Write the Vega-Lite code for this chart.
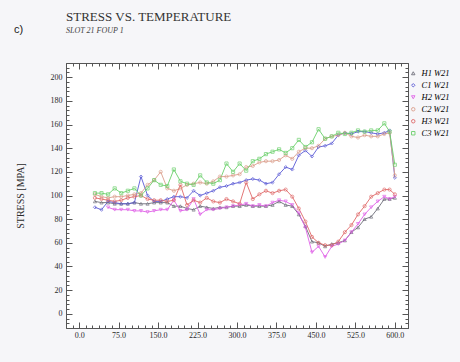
{
  "$schema": "https://vega.github.io/schema/vega-lite/v6.json",
  "autosize": "none",
  "padding": {"left": 66, "top": 63, "right": 52, "bottom": 34},
  "width": 342,
  "height": 265,
  "background": "#f6f6f9",
  "config": {
    "view": {"fill": "white", "stroke": "#555555", "strokeWidth": 1},
    "axis": {"domain": false, "grid": false, "labelFont": "Liberation Serif", "labelFontSize": 8, "labelColor": "#2a2a2a", "tickColor": "#555555", "labelOverlap": false, "labelBound": false, "labelFlush": false},
    "font": "Liberation Serif"
  },
  "title": {
    "text": "STRESS VS. TEMPERATURE",
    "subtitle": "SLOT 21 FOUP 1",
    "anchor": "start",
    "frame": "group",
    "font": "Liberation Serif",
    "fontSize": 13,
    "fontWeight": "normal",
    "color": "#333333",
    "subtitleFont": "Liberation Serif",
    "subtitleFontStyle": "italic",
    "subtitleFontSize": 8,
    "subtitleColor": "#444444",
    "subtitlePadding": 3,
    "offset": -12
  },
  "data": {"values": [
    {"s":"H1 W21","t":30,"v":95},{"s":"H1 W21","t":42.5,"v":94},{"s":"H1 W21","t":55,"v":94},{"s":"H1 W21","t":67.5,"v":93},{"s":"H1 W21","t":80,"v":93},{"s":"H1 W21","t":92.5,"v":93},{"s":"H1 W21","t":105,"v":94},{"s":"H1 W21","t":117.5,"v":93},{"s":"H1 W21","t":130,"v":93},{"s":"H1 W21","t":142.5,"v":94},{"s":"H1 W21","t":155,"v":94},{"s":"H1 W21","t":167.5,"v":94},{"s":"H1 W21","t":180,"v":91},{"s":"H1 W21","t":192.5,"v":91},{"s":"H1 W21","t":205,"v":89},{"s":"H1 W21","t":217.5,"v":88},{"s":"H1 W21","t":230,"v":91},{"s":"H1 W21","t":242.5,"v":90},{"s":"H1 W21","t":255,"v":89},{"s":"H1 W21","t":267.5,"v":90},{"s":"H1 W21","t":280,"v":90},{"s":"H1 W21","t":292.5,"v":91},{"s":"H1 W21","t":305,"v":91},{"s":"H1 W21","t":317.5,"v":92},{"s":"H1 W21","t":330,"v":91},{"s":"H1 W21","t":342.5,"v":91},{"s":"H1 W21","t":355,"v":91},{"s":"H1 W21","t":367.5,"v":92},{"s":"H1 W21","t":380,"v":95},{"s":"H1 W21","t":392.5,"v":92},{"s":"H1 W21","t":405,"v":91},{"s":"H1 W21","t":417.5,"v":84},{"s":"H1 W21","t":430,"v":74},{"s":"H1 W21","t":442.5,"v":61},{"s":"H1 W21","t":455,"v":60},{"s":"H1 W21","t":467.5,"v":57},{"s":"H1 W21","t":480,"v":59},{"s":"H1 W21","t":492.5,"v":60},{"s":"H1 W21","t":505,"v":62},{"s":"H1 W21","t":517.5,"v":69},{"s":"H1 W21","t":530,"v":73},{"s":"H1 W21","t":542.5,"v":80},{"s":"H1 W21","t":555,"v":82},{"s":"H1 W21","t":567.5,"v":89},{"s":"H1 W21","t":580,"v":97},{"s":"H1 W21","t":590,"v":97},{"s":"H1 W21","t":600,"v":98},

    {"s":"C1 W21","t":30,"v":90},{"s":"C1 W21","t":42.5,"v":88},{"s":"C1 W21","t":55,"v":95},{"s":"C1 W21","t":67.5,"v":94},{"s":"C1 W21","t":80,"v":93},{"s":"C1 W21","t":92.5,"v":93},{"s":"C1 W21","t":105,"v":94},{"s":"C1 W21","t":117.5,"v":116},{"s":"C1 W21","t":130,"v":100},{"s":"C1 W21","t":142.5,"v":95},{"s":"C1 W21","t":155,"v":95},{"s":"C1 W21","t":167.5,"v":97},{"s":"C1 W21","t":180,"v":99},{"s":"C1 W21","t":192.5,"v":99},{"s":"C1 W21","t":205,"v":98},{"s":"C1 W21","t":217.5,"v":104},{"s":"C1 W21","t":230,"v":100},{"s":"C1 W21","t":242.5,"v":102},{"s":"C1 W21","t":255,"v":104},{"s":"C1 W21","t":267.5,"v":107},{"s":"C1 W21","t":280,"v":108},{"s":"C1 W21","t":292.5,"v":110},{"s":"C1 W21","t":305,"v":111},{"s":"C1 W21","t":317.5,"v":113},{"s":"C1 W21","t":330,"v":114},{"s":"C1 W21","t":342.5,"v":113},{"s":"C1 W21","t":355,"v":110},{"s":"C1 W21","t":367.5,"v":111},{"s":"C1 W21","t":380,"v":118},{"s":"C1 W21","t":392.5,"v":124},{"s":"C1 W21","t":405,"v":122},{"s":"C1 W21","t":417.5,"v":134},{"s":"C1 W21","t":430,"v":138},{"s":"C1 W21","t":442.5,"v":133},{"s":"C1 W21","t":455,"v":141},{"s":"C1 W21","t":467.5,"v":142},{"s":"C1 W21","t":480,"v":144},{"s":"C1 W21","t":492.5,"v":151},{"s":"C1 W21","t":505,"v":153},{"s":"C1 W21","t":517.5,"v":152},{"s":"C1 W21","t":530,"v":154},{"s":"C1 W21","t":542.5,"v":154},{"s":"C1 W21","t":555,"v":153},{"s":"C1 W21","t":567.5,"v":152},{"s":"C1 W21","t":580,"v":153},{"s":"C1 W21","t":590,"v":155},{"s":"C1 W21","t":600,"v":115},

    {"s":"H2 W21","t":55,"v":90},{"s":"H2 W21","t":67.5,"v":88},{"s":"H2 W21","t":80,"v":88},{"s":"H2 W21","t":92.5,"v":88},{"s":"H2 W21","t":105,"v":87},{"s":"H2 W21","t":117.5,"v":87},{"s":"H2 W21","t":130,"v":86},{"s":"H2 W21","t":142.5,"v":87},{"s":"H2 W21","t":155,"v":88},{"s":"H2 W21","t":167.5,"v":88},{"s":"H2 W21","t":180,"v":96},{"s":"H2 W21","t":192.5,"v":87},{"s":"H2 W21","t":205,"v":88},{"s":"H2 W21","t":217.5,"v":97},{"s":"H2 W21","t":230,"v":84},{"s":"H2 W21","t":242.5,"v":88},{"s":"H2 W21","t":255,"v":88},{"s":"H2 W21","t":267.5,"v":89},{"s":"H2 W21","t":280,"v":90},{"s":"H2 W21","t":292.5,"v":91},{"s":"H2 W21","t":305,"v":92},{"s":"H2 W21","t":317.5,"v":93},{"s":"H2 W21","t":330,"v":91},{"s":"H2 W21","t":342.5,"v":92},{"s":"H2 W21","t":355,"v":91},{"s":"H2 W21","t":367.5,"v":94},{"s":"H2 W21","t":380,"v":96},{"s":"H2 W21","t":392.5,"v":95},{"s":"H2 W21","t":405,"v":92},{"s":"H2 W21","t":417.5,"v":85},{"s":"H2 W21","t":430,"v":73},{"s":"H2 W21","t":442.5,"v":52},{"s":"H2 W21","t":455,"v":57},{"s":"H2 W21","t":467.5,"v":48},{"s":"H2 W21","t":480,"v":57},{"s":"H2 W21","t":492.5,"v":59},{"s":"H2 W21","t":505,"v":62},{"s":"H2 W21","t":517.5,"v":69},{"s":"H2 W21","t":530,"v":76},{"s":"H2 W21","t":542.5,"v":84},{"s":"H2 W21","t":555,"v":90},{"s":"H2 W21","t":567.5,"v":95},{"s":"H2 W21","t":580,"v":99},{"s":"H2 W21","t":590,"v":97},{"s":"H2 W21","t":600,"v":99},

    {"s":"C2 W21","t":30,"v":101},{"s":"C2 W21","t":42.5,"v":99},{"s":"C2 W21","t":55,"v":98},{"s":"C2 W21","t":67.5,"v":99},{"s":"C2 W21","t":80,"v":99},{"s":"C2 W21","t":92.5,"v":100},{"s":"C2 W21","t":105,"v":101},{"s":"C2 W21","t":117.5,"v":102},{"s":"C2 W21","t":130,"v":109},{"s":"C2 W21","t":142.5,"v":113},{"s":"C2 W21","t":155,"v":120},{"s":"C2 W21","t":167.5,"v":106},{"s":"C2 W21","t":180,"v":104},{"s":"C2 W21","t":192.5,"v":106},{"s":"C2 W21","t":205,"v":109},{"s":"C2 W21","t":217.5,"v":110},{"s":"C2 W21","t":230,"v":111},{"s":"C2 W21","t":242.5,"v":110},{"s":"C2 W21","t":255,"v":112},{"s":"C2 W21","t":267.5,"v":116},{"s":"C2 W21","t":280,"v":116},{"s":"C2 W21","t":292.5,"v":117},{"s":"C2 W21","t":305,"v":118},{"s":"C2 W21","t":317.5,"v":124},{"s":"C2 W21","t":330,"v":125},{"s":"C2 W21","t":342.5,"v":128},{"s":"C2 W21","t":355,"v":129},{"s":"C2 W21","t":367.5,"v":129},{"s":"C2 W21","t":380,"v":130},{"s":"C2 W21","t":392.5,"v":134},{"s":"C2 W21","t":405,"v":131},{"s":"C2 W21","t":417.5,"v":137},{"s":"C2 W21","t":430,"v":140},{"s":"C2 W21","t":442.5,"v":140},{"s":"C2 W21","t":455,"v":142},{"s":"C2 W21","t":467.5,"v":148},{"s":"C2 W21","t":480,"v":150},{"s":"C2 W21","t":492.5,"v":151},{"s":"C2 W21","t":505,"v":153},{"s":"C2 W21","t":517.5,"v":150},{"s":"C2 W21","t":530,"v":149},{"s":"C2 W21","t":542.5,"v":151},{"s":"C2 W21","t":555,"v":150},{"s":"C2 W21","t":567.5,"v":150},{"s":"C2 W21","t":580,"v":152},{"s":"C2 W21","t":590,"v":153},{"s":"C2 W21","t":600,"v":117},

    {"s":"H3 W21","t":30,"v":98},{"s":"H3 W21","t":42.5,"v":97},{"s":"H3 W21","t":55,"v":96},{"s":"H3 W21","t":67.5,"v":95},{"s":"H3 W21","t":80,"v":96},{"s":"H3 W21","t":92.5,"v":98},{"s":"H3 W21","t":105,"v":99},{"s":"H3 W21","t":117.5,"v":100},{"s":"H3 W21","t":130,"v":97},{"s":"H3 W21","t":142.5,"v":96},{"s":"H3 W21","t":155,"v":96},{"s":"H3 W21","t":167.5,"v":95},{"s":"H3 W21","t":180,"v":96},{"s":"H3 W21","t":192.5,"v":109},{"s":"H3 W21","t":205,"v":92},{"s":"H3 W21","t":217.5,"v":96},{"s":"H3 W21","t":230,"v":94},{"s":"H3 W21","t":242.5,"v":98},{"s":"H3 W21","t":255,"v":95},{"s":"H3 W21","t":267.5,"v":94},{"s":"H3 W21","t":280,"v":97},{"s":"H3 W21","t":292.5,"v":95},{"s":"H3 W21","t":305,"v":93},{"s":"H3 W21","t":317.5,"v":111},{"s":"H3 W21","t":330,"v":97},{"s":"H3 W21","t":342.5,"v":101},{"s":"H3 W21","t":355,"v":104},{"s":"H3 W21","t":367.5,"v":102},{"s":"H3 W21","t":380,"v":104},{"s":"H3 W21","t":392.5,"v":105},{"s":"H3 W21","t":405,"v":99},{"s":"H3 W21","t":417.5,"v":89},{"s":"H3 W21","t":430,"v":78},{"s":"H3 W21","t":442.5,"v":65},{"s":"H3 W21","t":455,"v":60},{"s":"H3 W21","t":467.5,"v":58},{"s":"H3 W21","t":480,"v":58},{"s":"H3 W21","t":492.5,"v":61},{"s":"H3 W21","t":505,"v":69},{"s":"H3 W21","t":517.5,"v":75},{"s":"H3 W21","t":530,"v":84},{"s":"H3 W21","t":542.5,"v":91},{"s":"H3 W21","t":555,"v":99},{"s":"H3 W21","t":567.5,"v":102},{"s":"H3 W21","t":580,"v":105},{"s":"H3 W21","t":590,"v":105},{"s":"H3 W21","t":600,"v":101},

    {"s":"C3 W21","t":30,"v":102},{"s":"C3 W21","t":42.5,"v":102},{"s":"C3 W21","t":55,"v":101},{"s":"C3 W21","t":67.5,"v":106},{"s":"C3 W21","t":80,"v":102},{"s":"C3 W21","t":92.5,"v":104},{"s":"C3 W21","t":105,"v":106},{"s":"C3 W21","t":117.5,"v":100},{"s":"C3 W21","t":130,"v":106},{"s":"C3 W21","t":142.5,"v":113},{"s":"C3 W21","t":155,"v":109},{"s":"C3 W21","t":167.5,"v":108},{"s":"C3 W21","t":180,"v":122},{"s":"C3 W21","t":192.5,"v":112},{"s":"C3 W21","t":205,"v":110},{"s":"C3 W21","t":217.5,"v":109},{"s":"C3 W21","t":230,"v":117},{"s":"C3 W21","t":242.5,"v":111},{"s":"C3 W21","t":255,"v":110},{"s":"C3 W21","t":267.5,"v":113},{"s":"C3 W21","t":280,"v":127},{"s":"C3 W21","t":292.5,"v":120},{"s":"C3 W21","t":305,"v":127},{"s":"C3 W21","t":317.5,"v":121},{"s":"C3 W21","t":330,"v":129},{"s":"C3 W21","t":342.5,"v":131},{"s":"C3 W21","t":355,"v":135},{"s":"C3 W21","t":367.5,"v":137},{"s":"C3 W21","t":380,"v":139},{"s":"C3 W21","t":392.5,"v":136},{"s":"C3 W21","t":405,"v":140},{"s":"C3 W21","t":417.5,"v":147},{"s":"C3 W21","t":430,"v":141},{"s":"C3 W21","t":442.5,"v":145},{"s":"C3 W21","t":455,"v":156},{"s":"C3 W21","t":467.5,"v":148},{"s":"C3 W21","t":480,"v":150},{"s":"C3 W21","t":492.5,"v":153},{"s":"C3 W21","t":505,"v":152},{"s":"C3 W21","t":517.5,"v":153},{"s":"C3 W21","t":530,"v":155},{"s":"C3 W21","t":542.5,"v":154},{"s":"C3 W21","t":555,"v":155},{"s":"C3 W21","t":567.5,"v":155},{"s":"C3 W21","t":580,"v":161},{"s":"C3 W21","t":590,"v":154},{"s":"C3 W21","t":600,"v":126}
  ]},
  "resolve": {"axis": {"x": "independent", "y": "independent"}},
  "layer": [
    {
      "encoding": {
        "x": {"field": "t", "type": "quantitative", "scale": {"domain": [-25, 625], "nice": false, "zero": false},
          "axis": {"orient": "bottom", "title": null, "labelColor": "#2a2a2a",
            "values": [-25,-12.5,0,12.5,25,37.5,50,62.5,75,87.5,100,112.5,125,137.5,150,162.5,175,187.5,200,212.5,225,237.5,250,262.5,275,287.5,300,312.5,325,337.5,350,362.5,375,387.5,400,412.5,425,437.5,450,462.5,475,487.5,500,512.5,525,537.5,550,562.5,575,587.5,600,612.5,625],
            "labelExpr": "datum.value % 75 === 0 ? format(datum.value, '.1f') : ''",
            "tickSize": {"condition": {"test": "datum.value % 75 === 0", "value": -6}, "value": -3},
            "labelPadding": 9}},
        "y": {"field": "v", "type": "quantitative", "scale": {"domain": [-12, 212], "nice": false, "zero": false},
          "axis": {"orient": "left", "title": "STRESS [MPA]", "labelColor": "#2a2a2a", "titleFont": "Liberation Serif", "titleFontSize": 10, "titleFontWeight": "normal", "titleColor": "#2a2a2a", "titlePadding": 25,
            "values": [-12,-8,-4,0,4,8,12,16,20,24,28,32,36,40,44,48,52,56,60,64,68,72,76,80,84,88,92,96,100,104,108,112,116,120,124,128,132,136,140,144,148,152,156,160,164,168,172,176,180,184,188,192,196,200,204,208,212],
            "labelExpr": "datum.value % 20 === 0 ? datum.value : ''",
            "tickSize": {"condition": {"test": "datum.value % 20 === 0", "value": -6}, "value": -3},
            "labelPadding": 10}},
        "color": {"field": "s", "type": "nominal",
          "scale": {"domain": ["H1 W21","C1 W21","H2 W21","C2 W21","H3 W21","C3 W21"], "range": ["#6e6e7a","#5a5ad6","#e060e8","#dc9f8c","#e06868","#6cd06c"]},
          "legend": {"orient": "none", "legendX": 343, "legendY": 6, "title": null,
            "labelFont": "Liberation Serif", "labelFontStyle": "italic", "labelFontSize": 8.5, "symbolSize": 12, "symbolStrokeWidth": 1, "rowPadding": 3, "labelOffset": 4,
            "encode": {"labels": {"update": {"fill": {"scale": "color", "field": "value"}}}}}}
      },
      "layer": [
        {
          "mark": {"type": "line", "strokeWidth": 1, "opacity": 0.9},
          "encoding": {"detail": {"field": "s"}}
        },
        {
          "mark": {"type": "point", "filled": false, "size": 10, "strokeWidth": 1},
          "encoding": {
            "shape": {"field": "s", "type": "nominal",
              "scale": {"domain": ["H1 W21","C1 W21","H2 W21","C2 W21","H3 W21","C3 W21"], "range": ["triangle-up","diamond","triangle-down","circle","circle","square"]}}
          }
        }
      ]
    },
    {
      "mark": {"type": "point", "opacity": 0},
      "encoding": {
        "x": {"field": "t", "type": "quantitative", "scale": {"domain": [-25, 625], "nice": false, "zero": false},
          "axis": {"orient": "top", "labels": false, "title": "c)", "titleFont": "Liberation Sans", "titleFontSize": 11, "titleFontWeight": "normal", "titleColor": "#222222", "titleX": -48, "titleY": -34, "titleAngle": 0, "titleBaseline": "middle", "titleAlign": "center",
            "values": [-25,-12.5,0,12.5,25,37.5,50,62.5,75,87.5,100,112.5,125,137.5,150,162.5,175,187.5,200,212.5,225,237.5,250,262.5,275,287.5,300,312.5,325,337.5,350,362.5,375,387.5,400,412.5,425,437.5,450,462.5,475,487.5,500,512.5,525,537.5,550,562.5,575,587.5,600,612.5,625],
            "tickSize": {"condition": {"test": "datum.value % 75 === 0", "value": -6}, "value": -3}}},
        "y": {"field": "v", "type": "quantitative", "scale": {"domain": [-12, 212], "nice": false, "zero": false},
          "axis": {"orient": "right", "labels": false, "title": null,
            "values": [-12,-8,-4,0,4,8,12,16,20,24,28,32,36,40,44,48,52,56,60,64,68,72,76,80,84,88,92,96,100,104,108,112,116,120,124,128,132,136,140,144,148,152,156,160,164,168,172,176,180,184,188,192,196,200,204,208,212],
            "tickSize": {"condition": {"test": "datum.value % 20 === 0", "value": -6}, "value": -3}}}
      }
    }
  ]
}
